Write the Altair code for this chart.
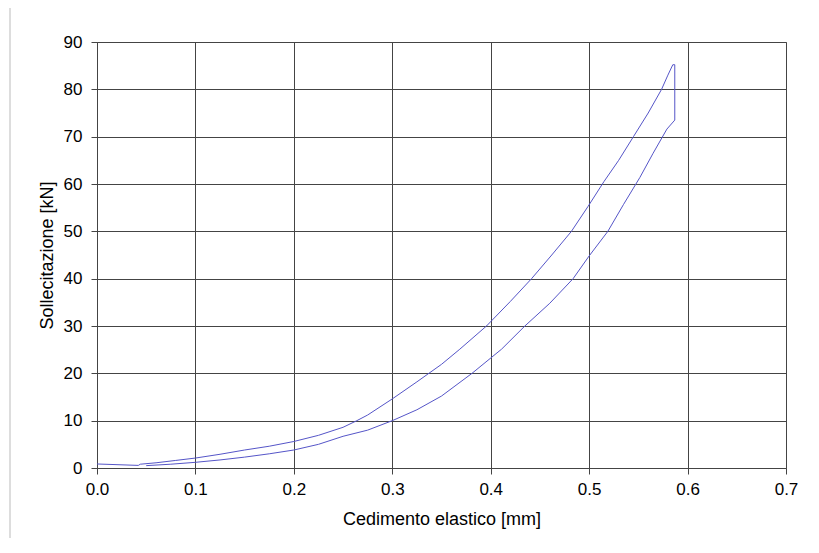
import altair as alt
import pandas as pd

# Loading branch (upper curve), including initial segment
upper_x = [0.0, 0.042, 0.044, 0.06, 0.08, 0.1, 0.125, 0.15, 0.175, 0.2, 0.225, 0.25, 0.264, 0.275,
           0.3, 0.325, 0.35, 0.3686, 0.3957, 0.42, 0.4415, 0.462, 0.482, 0.499,
           0.515, 0.53, 0.545, 0.56, 0.5736, 0.58, 0.585]
upper_y = [0.85, 0.55, 0.8, 1.1, 1.6, 2.1, 2.9, 3.8, 4.6, 5.6, 6.9, 8.6, 10.0, 11.2,
           14.6, 18.2, 21.9, 25.1, 30.0, 35.2, 40.0, 45.0, 50.0, 55.3,
           60.5, 65.0, 70.0, 75.0, 80.0, 83.0, 85.2]
# Vertical drop and unloading branch (lower curve)
lower_x = [0.587, 0.587, 0.579, 0.565, 0.5516, 0.535, 0.519, 0.5, 0.4837, 0.46, 0.4347,
           0.411, 0.381, 0.35, 0.325, 0.3, 0.275, 0.25, 0.225, 0.2, 0.175, 0.15, 0.125, 0.1,
           0.075, 0.05]
lower_y = [85.2, 73.5, 71.6, 66.5, 61.4, 55.7, 50.0, 44.8, 40.0, 34.8, 30.0,
           25.1, 20.0, 15.2, 12.3, 10.0, 8.0, 6.7, 5.0, 3.8, 3.0, 2.3, 1.7, 1.2,
           0.8, 0.5]

xs = upper_x + lower_x
ys = upper_y + lower_y
df = pd.DataFrame({"x": xs, "y": ys, "order": list(range(len(xs)))})

font = "Liberation Sans"

line = alt.Chart(df).mark_line(color="#5555c8", strokeWidth=1).encode(
    x=alt.X("x:Q", scale=alt.Scale(domain=[0, 0.7], nice=False),
            axis=alt.Axis(title="Cedimento elastico [mm]", values=[0, 0.1, 0.2, 0.3, 0.4, 0.5, 0.6, 0.7],
                          format=".1f", titlePadding=13, labelPadding=7, labelFlush=False)),
    y=alt.Y("y:Q", scale=alt.Scale(domain=[0, 90], nice=False),
            axis=alt.Axis(title="Sollecitazione [kN]", values=list(range(0, 91, 10)),
                          titlePadding=7, labelPadding=9, labelFlush=False)),
    order="order:Q",
)

frame = alt.Chart(pd.DataFrame({"a": [0]})).mark_rule(color="#bbbbbb", strokeWidth=1).encode(
    x=alt.value(-87), x2=alt.value(-87), y=alt.value(-35), y2=alt.value(520)
)
frame_top = alt.Chart(pd.DataFrame({"a": [0]})).mark_rule(color="#bbbbbb", strokeWidth=1).encode(
    x=alt.value(-87), x2=alt.value(740), y=alt.value(-35), y2=alt.value(-35)
)

chart = alt.layer(frame, frame_top, line).properties(
    width=689, height=426,
    background="white",
    autosize=alt.AutoSizeParams(type="none"),
    padding={"left": 89, "top": 34, "right": 20, "bottom": 70},
).configure_view(
    stroke="#888888", strokeWidth=1
).configure_axis(
    grid=True, gridColor="#444444", gridWidth=1,
    domainColor="#444444", tickColor="#444444", tickSize=6,
    labelFont=font, labelFontSize=17, labelColor="#000000",
    titleFont=font, titleFontSize=18, titleFontWeight="normal", titleColor="#000000",
)

chart.save("out.html", embed_options={"renderer": "svg", "actions": False})
